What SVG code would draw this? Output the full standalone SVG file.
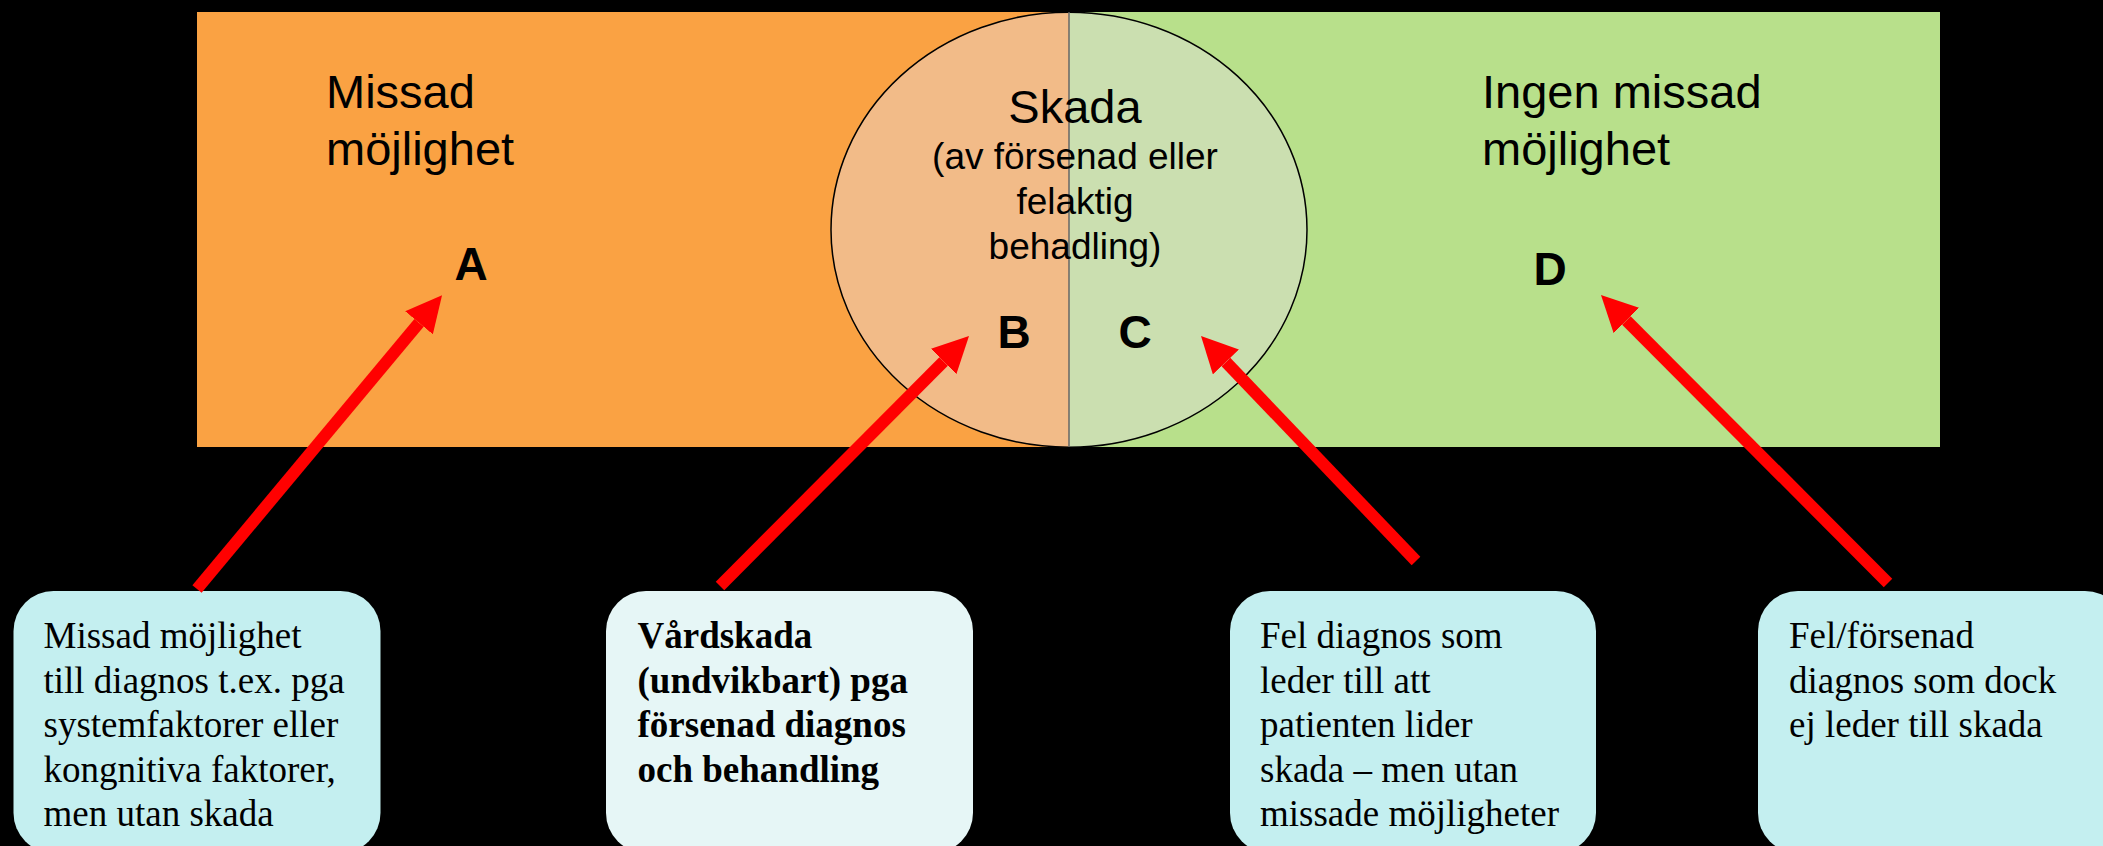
<svg xmlns="http://www.w3.org/2000/svg" width="2103" height="846" viewBox="0 0 2103 846">
<style>
.big{font-family:"Liberation Sans",Arial,sans-serif;font-size:47px;fill:#000}
.mid{font-family:"Liberation Sans",Arial,sans-serif;font-size:37px;fill:#000}
.let{font-family:"Liberation Sans",Arial,sans-serif;font-size:46px;font-weight:bold;fill:#000}
.box{font-family:"Liberation Serif","Times New Roman",serif;font-size:37px;fill:#000}
.boxb{font-family:"Liberation Serif","Times New Roman",serif;font-size:37px;font-weight:bold;fill:#000}
.arrow{stroke:#FF0000;stroke-width:12;fill:none;marker-end:url(#ah)}
</style>
<defs>
<marker id="ah" markerUnits="userSpaceOnUse" markerWidth="36" markerHeight="36" viewBox="0 0 36 36" refX="0" refY="18" orient="auto">
<path d="M0,0 L36,18 L0,36 Z" fill="#FF0000"/>
</marker>
</defs>
<rect x="0" y="0" width="2103" height="846" fill="#000"/>
<g id="regions">
<rect x="197" y="12" width="872" height="435" fill="#FAA243"/>
<rect x="1069" y="12" width="871" height="435" fill="#B8E08B"/>
</g>
<g id="skada">
<path d="M1069,12.2 A238,217.5 0 0 0 1069,447.2 Z" fill="#F2BB88"/>
<path d="M1069,12.2 A238,217.5 0 0 1 1069,447.2 Z" fill="#CBDFB0"/>
<ellipse cx="1069" cy="229.7" rx="238" ry="217.5" fill="none" stroke="#000" stroke-width="1.5"/>
<line x1="1069" y1="12" x2="1069" y2="447" stroke="#666" stroke-width="1.5"/>
<text class="big" x="1075" y="123" text-anchor="middle">Skada</text>
<text class="mid" text-anchor="middle"><tspan x="1075" y="169">(av försenad eller</tspan><tspan x="1075" y="214">felaktig</tspan><tspan x="1075" y="259">behadling)</tspan></text>
</g>
<g id="label-missad">
<text class="big"><tspan x="326" y="108">Missad</tspan><tspan x="326" y="165">möjlighet</tspan></text>
</g>
<g id="label-ingen">
<text class="big"><tspan x="1482" y="108">Ingen missad</tspan><tspan x="1482" y="165">möjlighet</tspan></text>
</g>
<g id="letter-A"><text class="let" x="471" y="280" text-anchor="middle">A</text></g>
<g id="letter-B"><text class="let" x="1014" y="348" text-anchor="middle">B</text></g>
<g id="letter-C"><text class="let" x="1135" y="348" text-anchor="middle">C</text></g>
<g id="letter-D"><text class="let" x="1550" y="285" text-anchor="middle">D</text></g>
<g id="box-1">
<rect x="13.5" y="591" width="367" height="262" rx="40" ry="40" fill="#C4EFF0"/>
<text class="box"><tspan x="43.5" y="648">Missad möjlighet</tspan><tspan x="43.5" y="692.5">till diagnos t.ex. pga</tspan><tspan x="43.5" y="737">systemfaktorer eller</tspan><tspan x="43.5" y="781.5">kongnitiva faktorer,</tspan><tspan x="43.5" y="826">men utan skada</tspan></text>
</g>
<g id="box-2">
<rect x="606" y="591" width="367" height="262" rx="40" ry="40" fill="#E6F6F6"/>
<text class="boxb"><tspan x="637.5" y="648">Vårdskada</tspan><tspan x="637.5" y="692.5">(undvikbart) pga</tspan><tspan x="637.5" y="737">försenad diagnos</tspan><tspan x="637.5" y="781.5">och behandling</tspan></text>
</g>
<g id="box-3">
<rect x="1230" y="591" width="366" height="262" rx="40" ry="40" fill="#C4EFF0"/>
<text class="box"><tspan x="1260" y="648">Fel diagnos som</tspan><tspan x="1260" y="692.5">leder till att</tspan><tspan x="1260" y="737">patienten lider</tspan><tspan x="1260" y="781.5">skada – men utan</tspan><tspan x="1260" y="826">missade möjligheter</tspan></text>
</g>
<g id="box-4">
<rect x="1758" y="591" width="367" height="262" rx="40" ry="40" fill="#C4EFF0"/>
<text class="box"><tspan x="1789" y="648">Fel/försenad</tspan><tspan x="1789" y="692.5">diagnos som dock</tspan><tspan x="1789" y="737">ej leder till skada</tspan></text>
</g>
<g id="connectors">
<line class="arrow" x1="197" y1="589" x2="419" y2="322.8"/>
<line class="arrow" x1="720" y1="586" x2="943.6" y2="361.5"/>
<line class="arrow" x1="1416" y1="561" x2="1225.9" y2="362"/>
<line class="arrow" x1="1888" y1="583" x2="1626.4" y2="320.5"/>
</g>
</svg>
